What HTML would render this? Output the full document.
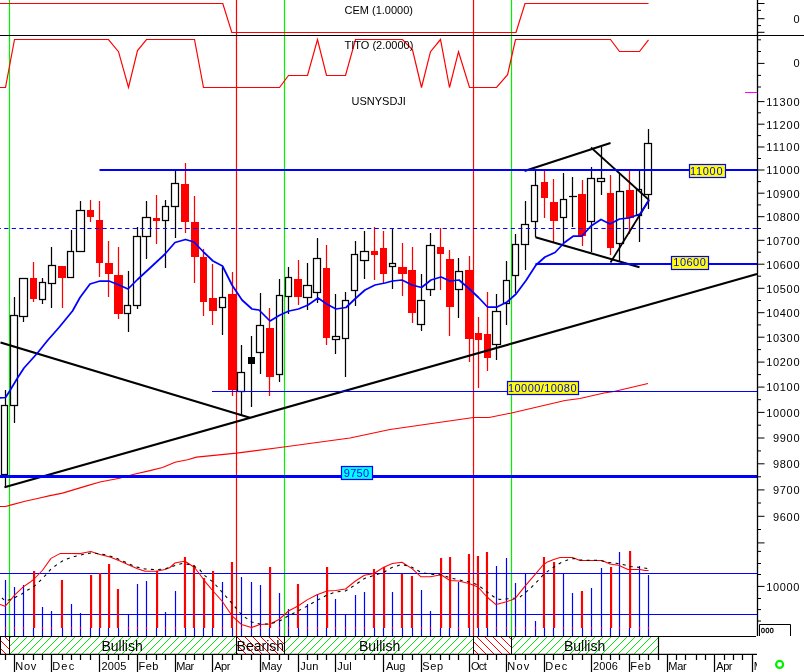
<!DOCTYPE html>
<html><head><meta charset="utf-8"><title>USNYSDJI chart</title>
<style>html,body{margin:0;padding:0;background:#fff}svg{display:block}</style></head>
<body>
<svg width="804" height="672" viewBox="0 0 804 672" font-family="Liberation Sans, Arial, sans-serif" font-size="11">
<defs>
<pattern id="hg" width="8" height="8" patternUnits="userSpaceOnUse"><path d="M-1,9 L9,-1 M-1,1 L1,-1 M7,9 L9,7" stroke="#00f000" stroke-width="1" fill="none"/></pattern>
<pattern id="hr" width="8" height="8" patternUnits="userSpaceOnUse"><path d="M-1,-1 L9,9 M7,-1 L9,1 M-1,7 L1,9" stroke="#ff0000" stroke-width="1" fill="none"/></pattern>
</defs>
<rect width="804" height="672" fill="#fff"/>
<line x1="9.5" y1="0" x2="9.5" y2="636" stroke="#00f000" stroke-width="1.2"/>
<line x1="284.5" y1="0" x2="284.5" y2="636" stroke="#00f000" stroke-width="1.2"/>
<line x1="511.5" y1="0" x2="511.5" y2="636" stroke="#00f000" stroke-width="1.2"/>
<line x1="236.5" y1="0" x2="236.5" y2="636" stroke="#ff0000" stroke-width="1.2"/>
<line x1="473.5" y1="0" x2="473.5" y2="636" stroke="#ff0000" stroke-width="1.2"/>
<polyline points="0.0,3.5 222.8,3.5 231.8,32.5 516.0,32.5 525.0,3.5 648.5,3.5" fill="none" stroke="#ff0000" stroke-width="1.2"/>
<polyline points="0.0,87.5 5.5,87.5 14.5,39.5 108.5,39.5 118.5,51.7 128.5,87.5 137.5,50.5 146.5,39.5 194.5,39.5 203.5,87.5 279.5,87.5 288.5,75.5 307.5,75.5 317.5,39.5 326.5,75.5 345.5,75.5 355.5,39.5 402.5,39.5 412.5,49.8 421.5,87.5 430.5,51.7 440.5,39.5 449.5,87.5 458.5,51.7 469.5,87.5 496.5,87.5 507.6,74.6 515.5,39.5 610.5,39.5 619.5,51.5 639.5,51.5 648.5,39.8" fill="none" stroke="#ff0000" stroke-width="1.2"/>
<line x1="0" y1="35.5" x2="804" y2="35.5" stroke="#000" stroke-width="1.15"/>
<text x="344.5" y="14" fill="#000">CEM (1.0000)</text>
<text x="344.5" y="49" fill="#000">TITO (2.0000)</text>
<text x="351.5" y="105" fill="#000">USNYSDJI</text>
<polyline points="0.0,506.5 5.5,506.5 9.5,505.4 25.0,501.3 37.5,498.5 50.0,495.6 62.5,493.1 75.0,489.4 87.5,485.6 100.0,482.0 119.4,478.2 134.0,474.2 150.0,470.6 162.5,467.5 175.0,462.3 187.5,459.8 196.5,457.1 236.5,453.1 280.0,447.5 350.0,438.0 390.0,429.5 473.5,417.5 489.0,417.5 511.5,413.0 565.0,400.5 580.0,398.5 604.0,393.0 614.0,391.5 648.0,383.5" fill="none" stroke="#ff0000" stroke-width="1.1" stroke-linejoin="round"/>
<line x1="5.5" y1="390" x2="5.5" y2="405" stroke="#000" stroke-width="1.25"/>
<line x1="5.5" y1="475" x2="5.5" y2="488" stroke="#000" stroke-width="1.25"/>
<rect x="1.5" y="405.5" width="6" height="69" fill="none" stroke="#000" stroke-width="1.25"/>
<line x1="14.5" y1="297" x2="14.5" y2="315" stroke="#000" stroke-width="1.25"/>
<line x1="14.5" y1="406" x2="14.5" y2="423" stroke="#000" stroke-width="1.25"/>
<rect x="10.5" y="315.5" width="7" height="90" fill="none" stroke="#000" stroke-width="1.25"/>
<line x1="23.5" y1="317" x2="23.5" y2="322" stroke="#000" stroke-width="1.25"/>
<rect x="19.5" y="278.5" width="8" height="38" fill="none" stroke="#000" stroke-width="1.25"/>
<line x1="33.5" y1="262" x2="33.5" y2="278" stroke="#ff0000" stroke-width="1.25"/>
<line x1="33.5" y1="299" x2="33.5" y2="302" stroke="#ff0000" stroke-width="1.25"/>
<rect x="30" y="278" width="7" height="21" fill="#ff0000"/>
<line x1="42.5" y1="278" x2="42.5" y2="282" stroke="#000" stroke-width="1.25"/>
<line x1="42.5" y1="300" x2="42.5" y2="304" stroke="#000" stroke-width="1.25"/>
<rect x="39.5" y="282.5" width="6" height="17" fill="none" stroke="#000" stroke-width="1.25"/>
<line x1="51.5" y1="247" x2="51.5" y2="265" stroke="#000" stroke-width="1.25"/>
<line x1="51.5" y1="284" x2="51.5" y2="308" stroke="#000" stroke-width="1.25"/>
<rect x="48.5" y="265.5" width="7" height="18" fill="none" stroke="#000" stroke-width="1.25"/>
<line x1="62.5" y1="278" x2="62.5" y2="308" stroke="#ff0000" stroke-width="1.25"/>
<rect x="58" y="266" width="8" height="12" fill="#ff0000"/>
<line x1="71.5" y1="230" x2="71.5" y2="251" stroke="#000" stroke-width="1.25"/>
<rect x="67.5" y="251.5" width="6" height="26" fill="none" stroke="#000" stroke-width="1.25"/>
<line x1="80.5" y1="201" x2="80.5" y2="210" stroke="#000" stroke-width="1.25"/>
<rect x="76.5" y="210.5" width="8" height="41" fill="none" stroke="#000" stroke-width="1.25"/>
<line x1="90.5" y1="200" x2="90.5" y2="210" stroke="#ff0000" stroke-width="1.25"/>
<line x1="90.5" y1="217" x2="90.5" y2="222" stroke="#ff0000" stroke-width="1.25"/>
<rect x="87" y="210" width="7" height="7" fill="#ff0000"/>
<line x1="99.5" y1="201" x2="99.5" y2="220" stroke="#ff0000" stroke-width="1.25"/>
<line x1="99.5" y1="263" x2="99.5" y2="277" stroke="#ff0000" stroke-width="1.25"/>
<rect x="96" y="220" width="7" height="43" fill="#ff0000"/>
<line x1="108.5" y1="241" x2="108.5" y2="263" stroke="#ff0000" stroke-width="1.25"/>
<line x1="108.5" y1="274" x2="108.5" y2="297" stroke="#ff0000" stroke-width="1.25"/>
<rect x="105" y="263" width="8" height="11" fill="#ff0000"/>
<line x1="118.5" y1="247" x2="118.5" y2="275" stroke="#ff0000" stroke-width="1.25"/>
<line x1="118.5" y1="314" x2="118.5" y2="319" stroke="#ff0000" stroke-width="1.25"/>
<rect x="114" y="275" width="9" height="39" fill="#ff0000"/>
<line x1="128.5" y1="271" x2="128.5" y2="305" stroke="#000" stroke-width="1.25"/>
<line x1="128.5" y1="314" x2="128.5" y2="332" stroke="#000" stroke-width="1.25"/>
<rect x="124.5" y="305.5" width="6" height="8" fill="none" stroke="#000" stroke-width="1.25"/>
<line x1="137.5" y1="227" x2="137.5" y2="236" stroke="#000" stroke-width="1.25"/>
<line x1="137.5" y1="306" x2="137.5" y2="309" stroke="#000" stroke-width="1.25"/>
<rect x="133.5" y="236.5" width="7" height="69" fill="none" stroke="#000" stroke-width="1.25"/>
<line x1="146.5" y1="201" x2="146.5" y2="217" stroke="#000" stroke-width="1.25"/>
<line x1="146.5" y1="237" x2="146.5" y2="259" stroke="#000" stroke-width="1.25"/>
<rect x="142.5" y="217.5" width="8" height="19" fill="none" stroke="#000" stroke-width="1.25"/>
<line x1="156.5" y1="195" x2="156.5" y2="218" stroke="#ff0000" stroke-width="1.25"/>
<line x1="156.5" y1="221" x2="156.5" y2="244" stroke="#ff0000" stroke-width="1.25"/>
<rect x="153" y="218" width="7" height="3" fill="#ff0000"/>
<line x1="165.5" y1="200" x2="165.5" y2="206" stroke="#000" stroke-width="1.25"/>
<line x1="165.5" y1="221" x2="165.5" y2="268" stroke="#000" stroke-width="1.25"/>
<rect x="162.5" y="206.5" width="6" height="14" fill="none" stroke="#000" stroke-width="1.25"/>
<line x1="175.5" y1="170" x2="175.5" y2="183" stroke="#000" stroke-width="1.25"/>
<line x1="175.5" y1="207" x2="175.5" y2="238" stroke="#000" stroke-width="1.25"/>
<rect x="171.5" y="183.5" width="7" height="23" fill="none" stroke="#000" stroke-width="1.25"/>
<line x1="185.5" y1="163" x2="185.5" y2="184" stroke="#ff0000" stroke-width="1.25"/>
<line x1="185.5" y1="222" x2="185.5" y2="233" stroke="#ff0000" stroke-width="1.25"/>
<rect x="181" y="184" width="8" height="38" fill="#ff0000"/>
<line x1="194.5" y1="196" x2="194.5" y2="222" stroke="#ff0000" stroke-width="1.25"/>
<line x1="194.5" y1="257" x2="194.5" y2="283" stroke="#ff0000" stroke-width="1.25"/>
<rect x="191" y="222" width="8" height="35" fill="#ff0000"/>
<line x1="203.5" y1="249" x2="203.5" y2="257" stroke="#ff0000" stroke-width="1.25"/>
<line x1="203.5" y1="302" x2="203.5" y2="316" stroke="#ff0000" stroke-width="1.25"/>
<rect x="200" y="257" width="7" height="45" fill="#ff0000"/>
<line x1="212.5" y1="264" x2="212.5" y2="298" stroke="#ff0000" stroke-width="1.25"/>
<line x1="212.5" y1="311" x2="212.5" y2="325" stroke="#ff0000" stroke-width="1.25"/>
<rect x="209" y="298" width="8" height="13" fill="#ff0000"/>
<line x1="222.5" y1="266" x2="222.5" y2="297" stroke="#000" stroke-width="1.25"/>
<line x1="222.5" y1="308" x2="222.5" y2="335" stroke="#000" stroke-width="1.25"/>
<rect x="219.5" y="297.5" width="6" height="10" fill="none" stroke="#000" stroke-width="1.25"/>
<line x1="232.5" y1="272" x2="232.5" y2="294" stroke="#ff0000" stroke-width="1.25"/>
<line x1="232.5" y1="390" x2="232.5" y2="396" stroke="#ff0000" stroke-width="1.25"/>
<rect x="228" y="294" width="9" height="96" fill="#ff0000"/>
<line x1="241.5" y1="345" x2="241.5" y2="372" stroke="#000" stroke-width="1.25"/>
<line x1="241.5" y1="392" x2="241.5" y2="416" stroke="#000" stroke-width="1.25"/>
<rect x="237.5" y="372.5" width="7" height="19" fill="none" stroke="#000" stroke-width="1.25"/>
<line x1="251.5" y1="336" x2="251.5" y2="357" stroke="#000" stroke-width="1.25"/>
<line x1="251.5" y1="364" x2="251.5" y2="407" stroke="#000" stroke-width="1.25"/>
<rect x="248" y="357" width="7" height="7" fill="#000"/>
<line x1="260.5" y1="293" x2="260.5" y2="325" stroke="#000" stroke-width="1.25"/>
<line x1="260.5" y1="353" x2="260.5" y2="374" stroke="#000" stroke-width="1.25"/>
<rect x="256.5" y="325.5" width="7" height="27" fill="none" stroke="#000" stroke-width="1.25"/>
<line x1="269.5" y1="308" x2="269.5" y2="328" stroke="#ff0000" stroke-width="1.25"/>
<line x1="269.5" y1="377" x2="269.5" y2="396" stroke="#ff0000" stroke-width="1.25"/>
<rect x="266" y="328" width="8" height="49" fill="#ff0000"/>
<line x1="279.5" y1="279" x2="279.5" y2="295" stroke="#000" stroke-width="1.25"/>
<line x1="279.5" y1="375" x2="279.5" y2="382" stroke="#000" stroke-width="1.25"/>
<rect x="276.5" y="295.5" width="6" height="79" fill="none" stroke="#000" stroke-width="1.25"/>
<line x1="288.5" y1="267" x2="288.5" y2="277" stroke="#000" stroke-width="1.25"/>
<line x1="288.5" y1="297" x2="288.5" y2="314" stroke="#000" stroke-width="1.25"/>
<rect x="285.5" y="277.5" width="6" height="19" fill="none" stroke="#000" stroke-width="1.25"/>
<line x1="298.5" y1="260" x2="298.5" y2="279" stroke="#ff0000" stroke-width="1.25"/>
<line x1="298.5" y1="297" x2="298.5" y2="305" stroke="#ff0000" stroke-width="1.25"/>
<rect x="294" y="279" width="8" height="18" fill="#ff0000"/>
<line x1="307.5" y1="263" x2="307.5" y2="285" stroke="#000" stroke-width="1.25"/>
<line x1="307.5" y1="298" x2="307.5" y2="310" stroke="#000" stroke-width="1.25"/>
<rect x="303.5" y="285.5" width="8" height="12" fill="none" stroke="#000" stroke-width="1.25"/>
<line x1="317.5" y1="238" x2="317.5" y2="258" stroke="#000" stroke-width="1.25"/>
<line x1="317.5" y1="293" x2="317.5" y2="303" stroke="#000" stroke-width="1.25"/>
<rect x="313.5" y="258.5" width="7" height="34" fill="none" stroke="#000" stroke-width="1.25"/>
<line x1="326.5" y1="245" x2="326.5" y2="268" stroke="#ff0000" stroke-width="1.25"/>
<line x1="326.5" y1="338" x2="326.5" y2="345" stroke="#ff0000" stroke-width="1.25"/>
<rect x="323" y="268" width="7" height="70" fill="#ff0000"/>
<line x1="335.5" y1="294" x2="335.5" y2="336" stroke="#000" stroke-width="1.25"/>
<line x1="335.5" y1="340" x2="335.5" y2="354" stroke="#000" stroke-width="1.25"/>
<rect x="332.5" y="336.5" width="7" height="3" fill="none" stroke="#000" stroke-width="1.25"/>
<line x1="345.5" y1="292" x2="345.5" y2="300" stroke="#000" stroke-width="1.25"/>
<line x1="345.5" y1="339" x2="345.5" y2="377" stroke="#000" stroke-width="1.25"/>
<rect x="342.5" y="300.5" width="6" height="38" fill="none" stroke="#000" stroke-width="1.25"/>
<line x1="355.5" y1="241" x2="355.5" y2="254" stroke="#000" stroke-width="1.25"/>
<line x1="355.5" y1="291" x2="355.5" y2="306" stroke="#000" stroke-width="1.25"/>
<rect x="351.5" y="254.5" width="6" height="36" fill="none" stroke="#000" stroke-width="1.25"/>
<line x1="364.5" y1="231" x2="364.5" y2="251" stroke="#000" stroke-width="1.25"/>
<line x1="364.5" y1="261" x2="364.5" y2="279" stroke="#000" stroke-width="1.25"/>
<rect x="360.5" y="251.5" width="8" height="9" fill="none" stroke="#000" stroke-width="1.25"/>
<line x1="374.5" y1="227" x2="374.5" y2="251" stroke="#ff0000" stroke-width="1.25"/>
<line x1="374.5" y1="255" x2="374.5" y2="280" stroke="#ff0000" stroke-width="1.25"/>
<rect x="371" y="251" width="7" height="4" fill="#ff0000"/>
<line x1="383.5" y1="231" x2="383.5" y2="248" stroke="#ff0000" stroke-width="1.25"/>
<line x1="383.5" y1="274" x2="383.5" y2="284" stroke="#ff0000" stroke-width="1.25"/>
<rect x="380" y="248" width="7" height="26" fill="#ff0000"/>
<line x1="392.5" y1="228" x2="392.5" y2="263" stroke="#000" stroke-width="1.25"/>
<line x1="392.5" y1="267" x2="392.5" y2="289" stroke="#000" stroke-width="1.25"/>
<rect x="389.5" y="263.5" width="6" height="3" fill="none" stroke="#000" stroke-width="1.25"/>
<line x1="402.5" y1="243" x2="402.5" y2="267" stroke="#ff0000" stroke-width="1.25"/>
<line x1="402.5" y1="274" x2="402.5" y2="296" stroke="#ff0000" stroke-width="1.25"/>
<rect x="398" y="267" width="9" height="7" fill="#ff0000"/>
<line x1="412.5" y1="247" x2="412.5" y2="270" stroke="#ff0000" stroke-width="1.25"/>
<line x1="412.5" y1="313" x2="412.5" y2="323" stroke="#ff0000" stroke-width="1.25"/>
<rect x="408" y="270" width="8" height="43" fill="#ff0000"/>
<line x1="421.5" y1="274" x2="421.5" y2="300" stroke="#000" stroke-width="1.25"/>
<line x1="421.5" y1="325" x2="421.5" y2="331" stroke="#000" stroke-width="1.25"/>
<rect x="417.5" y="300.5" width="7" height="24" fill="none" stroke="#000" stroke-width="1.25"/>
<line x1="430.5" y1="233" x2="430.5" y2="245" stroke="#000" stroke-width="1.25"/>
<line x1="430.5" y1="290" x2="430.5" y2="296" stroke="#000" stroke-width="1.25"/>
<rect x="426.5" y="245.5" width="8" height="44" fill="none" stroke="#000" stroke-width="1.25"/>
<line x1="440.5" y1="228" x2="440.5" y2="247" stroke="#ff0000" stroke-width="1.25"/>
<line x1="440.5" y1="254" x2="440.5" y2="290" stroke="#ff0000" stroke-width="1.25"/>
<rect x="437" y="247" width="7" height="7" fill="#ff0000"/>
<line x1="449.5" y1="250" x2="449.5" y2="259" stroke="#ff0000" stroke-width="1.25"/>
<line x1="449.5" y1="307" x2="449.5" y2="336" stroke="#ff0000" stroke-width="1.25"/>
<rect x="446" y="259" width="8" height="48" fill="#ff0000"/>
<line x1="458.5" y1="258" x2="458.5" y2="271" stroke="#000" stroke-width="1.25"/>
<line x1="458.5" y1="290" x2="458.5" y2="318" stroke="#000" stroke-width="1.25"/>
<rect x="455.5" y="271.5" width="7" height="18" fill="none" stroke="#000" stroke-width="1.25"/>
<line x1="469.5" y1="256" x2="469.5" y2="270" stroke="#ff0000" stroke-width="1.25"/>
<line x1="469.5" y1="339" x2="469.5" y2="362" stroke="#ff0000" stroke-width="1.25"/>
<rect x="465" y="270" width="9" height="69" fill="#ff0000"/>
<line x1="478.5" y1="317" x2="478.5" y2="333" stroke="#ff0000" stroke-width="1.25"/>
<line x1="478.5" y1="340" x2="478.5" y2="388" stroke="#ff0000" stroke-width="1.25"/>
<rect x="475" y="333" width="7" height="7" fill="#ff0000"/>
<line x1="487.5" y1="292" x2="487.5" y2="334" stroke="#ff0000" stroke-width="1.25"/>
<line x1="487.5" y1="358" x2="487.5" y2="371" stroke="#ff0000" stroke-width="1.25"/>
<rect x="484" y="334" width="7" height="24" fill="#ff0000"/>
<line x1="496.5" y1="294" x2="496.5" y2="311" stroke="#000" stroke-width="1.25"/>
<line x1="496.5" y1="345" x2="496.5" y2="360" stroke="#000" stroke-width="1.25"/>
<rect x="492.5" y="311.5" width="8" height="33" fill="none" stroke="#000" stroke-width="1.25"/>
<line x1="506.5" y1="261" x2="506.5" y2="280" stroke="#000" stroke-width="1.25"/>
<line x1="506.5" y1="304" x2="506.5" y2="325" stroke="#000" stroke-width="1.25"/>
<rect x="503.5" y="280.5" width="6" height="23" fill="none" stroke="#000" stroke-width="1.25"/>
<line x1="515.5" y1="234" x2="515.5" y2="244" stroke="#000" stroke-width="1.25"/>
<line x1="515.5" y1="276" x2="515.5" y2="293" stroke="#000" stroke-width="1.25"/>
<rect x="512.5" y="244.5" width="6" height="31" fill="none" stroke="#000" stroke-width="1.25"/>
<line x1="525.5" y1="201" x2="525.5" y2="224" stroke="#000" stroke-width="1.25"/>
<line x1="525.5" y1="245" x2="525.5" y2="270" stroke="#000" stroke-width="1.25"/>
<rect x="521.5" y="224.5" width="7" height="20" fill="none" stroke="#000" stroke-width="1.25"/>
<line x1="535.5" y1="171" x2="535.5" y2="185" stroke="#000" stroke-width="1.25"/>
<line x1="535.5" y1="222" x2="535.5" y2="237" stroke="#000" stroke-width="1.25"/>
<rect x="531.5" y="185.5" width="6" height="36" fill="none" stroke="#000" stroke-width="1.25"/>
<line x1="544.5" y1="171" x2="544.5" y2="182" stroke="#ff0000" stroke-width="1.25"/>
<line x1="544.5" y1="198" x2="544.5" y2="218" stroke="#ff0000" stroke-width="1.25"/>
<rect x="541" y="182" width="7" height="16" fill="#ff0000"/>
<line x1="553.5" y1="179" x2="553.5" y2="202" stroke="#ff0000" stroke-width="1.25"/>
<line x1="553.5" y1="221" x2="553.5" y2="242" stroke="#ff0000" stroke-width="1.25"/>
<rect x="550" y="202" width="8" height="19" fill="#ff0000"/>
<line x1="563.5" y1="173" x2="563.5" y2="199" stroke="#000" stroke-width="1.25"/>
<line x1="563.5" y1="218" x2="563.5" y2="243" stroke="#000" stroke-width="1.25"/>
<rect x="560.5" y="199.5" width="6" height="18" fill="none" stroke="#000" stroke-width="1.25"/>
<line x1="572.5" y1="177" x2="572.5" y2="227" stroke="#000" stroke-width="1.25"/>
<line x1="569" y1="196.5" x2="577" y2="196.5" stroke="#000" stroke-width="1.25"/>
<line x1="582.5" y1="180" x2="582.5" y2="194" stroke="#ff0000" stroke-width="1.25"/>
<line x1="582.5" y1="236" x2="582.5" y2="246" stroke="#ff0000" stroke-width="1.25"/>
<rect x="578" y="194" width="8" height="42" fill="#ff0000"/>
<line x1="591.5" y1="167" x2="591.5" y2="178" stroke="#000" stroke-width="1.25"/>
<line x1="591.5" y1="222" x2="591.5" y2="252" stroke="#000" stroke-width="1.25"/>
<rect x="587.5" y="178.5" width="7" height="43" fill="none" stroke="#000" stroke-width="1.25"/>
<line x1="601.5" y1="147" x2="601.5" y2="178" stroke="#000" stroke-width="1.25"/>
<line x1="601.5" y1="182" x2="601.5" y2="195" stroke="#000" stroke-width="1.25"/>
<rect x="597.5" y="178.5" width="7" height="3" fill="none" stroke="#000" stroke-width="1.25"/>
<line x1="610.5" y1="175" x2="610.5" y2="193" stroke="#ff0000" stroke-width="1.25"/>
<line x1="610.5" y1="248" x2="610.5" y2="255" stroke="#ff0000" stroke-width="1.25"/>
<rect x="607" y="193" width="7" height="55" fill="#ff0000"/>
<line x1="619.5" y1="174" x2="619.5" y2="191" stroke="#000" stroke-width="1.25"/>
<line x1="619.5" y1="244" x2="619.5" y2="261" stroke="#000" stroke-width="1.25"/>
<rect x="616.5" y="191.5" width="7" height="52" fill="none" stroke="#000" stroke-width="1.25"/>
<line x1="629.5" y1="171" x2="629.5" y2="190" stroke="#ff0000" stroke-width="1.25"/>
<line x1="629.5" y1="218" x2="629.5" y2="234" stroke="#ff0000" stroke-width="1.25"/>
<rect x="626" y="190" width="8" height="28" fill="#ff0000"/>
<line x1="639.5" y1="171" x2="639.5" y2="189" stroke="#000" stroke-width="1.25"/>
<line x1="639.5" y1="216" x2="639.5" y2="242" stroke="#000" stroke-width="1.25"/>
<rect x="636.5" y="189.5" width="5" height="26" fill="none" stroke="#000" stroke-width="1.25"/>
<line x1="648.5" y1="129" x2="648.5" y2="143" stroke="#000" stroke-width="1.25"/>
<line x1="648.5" y1="195" x2="648.5" y2="209" stroke="#000" stroke-width="1.25"/>
<rect x="644.5" y="143.5" width="7" height="51" fill="none" stroke="#000" stroke-width="1.25"/>
<line x1="1.5" y1="342.7" x2="249" y2="417.5" stroke="#000" stroke-width="2.1" stroke-linecap="square"/>
<line x1="4.5" y1="487.3" x2="757" y2="274" stroke="#000" stroke-width="2.15"/>
<line x1="524.5" y1="171" x2="610.5" y2="143" stroke="#000" stroke-width="2.05"/>
<line x1="591" y1="147.5" x2="649" y2="200" stroke="#000" stroke-width="1.7"/>
<line x1="535.5" y1="237.2" x2="639.5" y2="267.3" stroke="#000" stroke-width="2.05"/>
<line x1="610.5" y1="262.5" x2="649" y2="200" stroke="#000" stroke-width="1.8"/>
<line x1="0" y1="228.5" x2="757" y2="228.5" stroke="#0000ff" stroke-width="1.1" stroke-dasharray="4.2,3.36" stroke-dashoffset="-4.2"/>
<line x1="0" y1="476.5" x2="757" y2="476.5" stroke="#0000ff" stroke-width="3"/>
<line x1="99.5" y1="170" x2="757" y2="170" stroke="#0000ff" stroke-width="2"/>
<line x1="535.5" y1="264" x2="757" y2="264" stroke="#0000ff" stroke-width="2"/>
<line x1="212" y1="391.5" x2="757" y2="391.5" stroke="#0000ff" stroke-width="1"/>
<polyline points="0.0,398.0 5.5,397.5 10.0,390.5 17.5,378.0 24.0,368.0 37.5,353.0 47.5,340.5 59.0,327.5 72.5,311.0 80.0,297.5 90.0,284.0 100.0,281.0 109.0,281.0 119.0,285.0 128.0,289.0 137.5,279.5 150.0,268.0 165.0,254.0 175.0,242.5 185.5,239.5 194.0,242.0 204.0,252.5 213.0,261.0 222.5,266.0 232.0,285.0 242.0,300.0 252.0,309.0 259.0,310.0 270.0,321.0 280.0,315.0 289.0,311.0 298.5,309.0 308.0,305.0 318.0,298.0 327.5,304.5 336.0,309.0 346.0,307.5 356.0,298.0 365.0,290.0 375.0,285.0 385.0,283.0 392.5,281.0 402.0,280.0 412.0,285.0 421.5,287.5 431.0,280.0 441.0,277.0 450.0,281.0 459.0,280.0 469.5,289.0 478.5,297.5 487.5,307.0 497.0,307.0 507.0,302.0 516.0,294.0 526.0,280.5 536.0,265.0 545.0,257.0 555.0,252.5 564.5,242.5 573.5,236.0 582.0,236.0 591.0,226.0 601.0,219.5 610.0,224.0 619.5,219.0 629.0,218.0 640.0,214.0 649.0,200.0" fill="none" stroke="#0000ff" stroke-width="1.75" stroke-linejoin="round"/>
<rect x="689.5" y="164.5" width="36" height="13" fill="#ffff00" stroke="#0000ff" stroke-width="1.2"/>
<text x="690" y="175" textLength="32.5" lengthAdjust="spacing" fill="#0000ff">11000</text>
<rect x="671.5" y="256.5" width="37" height="13" fill="#ffff00" stroke="#0000ff" stroke-width="1.2"/>
<text x="673.3" y="266.2" textLength="32.5" lengthAdjust="spacing" fill="#0000ff">10600</text>
<rect x="507.5" y="381.5" width="71" height="13" fill="#ffff00" stroke="#0000ff" stroke-width="1.2"/>
<text x="508" y="391.8" textLength="68.5" lengthAdjust="spacing" fill="#0000ff">10000/10080</text>
<rect x="341.5" y="466.5" width="31" height="13" fill="#00ffff" stroke="#0000ff" stroke-width="1.2"/>
<text x="343.8" y="476.8" textLength="25.2" lengthAdjust="spacing" fill="#0000ff">9750</text>
<line x1="0" y1="573.5" x2="757" y2="573.5" stroke="#0000ff" stroke-width="1"/>
<line x1="0" y1="614.5" x2="757" y2="614.5" stroke="#0000ff" stroke-width="1"/>
<line x1="5.5" y1="636" x2="5.5" y2="580" stroke="#0000ff" stroke-width="1.2"/>
<rect x="4.9" y="627.2" width="1.2" height="1.8" fill="#ff0000"/>
<line x1="14.5" y1="636" x2="14.5" y2="587" stroke="#0000ff" stroke-width="1.2"/>
<rect x="13.9" y="627.2" width="1.2" height="1.8" fill="#ff0000"/>
<line x1="23.5" y1="636" x2="23.5" y2="585" stroke="#0000ff" stroke-width="1.2"/>
<rect x="22.9" y="627.2" width="1.2" height="1.8" fill="#ff0000"/>
<line x1="33.5" y1="636" x2="33.5" y2="628" stroke="#0000ff" stroke-width="1.2"/>
<rect x="33.0" y="571" width="2.15" height="57" fill="#ff0000"/>
<line x1="42.5" y1="636" x2="42.5" y2="607" stroke="#0000ff" stroke-width="1.2"/>
<rect x="41.9" y="627.2" width="1.2" height="1.8" fill="#ff0000"/>
<line x1="51.5" y1="636" x2="51.5" y2="611" stroke="#0000ff" stroke-width="1.2"/>
<rect x="50.9" y="627.2" width="1.2" height="1.8" fill="#ff0000"/>
<line x1="62.5" y1="636" x2="62.5" y2="628" stroke="#0000ff" stroke-width="1.2"/>
<rect x="60.9" y="580" width="2.15" height="48" fill="#ff0000"/>
<line x1="71.5" y1="636" x2="71.5" y2="604" stroke="#0000ff" stroke-width="1.2"/>
<rect x="70.9" y="627.2" width="1.2" height="1.8" fill="#ff0000"/>
<line x1="80.5" y1="636" x2="80.5" y2="613" stroke="#0000ff" stroke-width="1.2"/>
<rect x="79.9" y="627.2" width="1.2" height="1.8" fill="#ff0000"/>
<line x1="90.5" y1="636" x2="90.5" y2="628" stroke="#0000ff" stroke-width="1.2"/>
<rect x="90.0" y="575" width="2.15" height="53" fill="#ff0000"/>
<line x1="99.5" y1="636" x2="99.5" y2="628" stroke="#0000ff" stroke-width="1.2"/>
<rect x="99.0" y="573" width="2.15" height="55" fill="#ff0000"/>
<line x1="108.5" y1="636" x2="108.5" y2="628" stroke="#0000ff" stroke-width="1.2"/>
<rect x="108.0" y="564" width="2.15" height="64" fill="#ff0000"/>
<line x1="118.5" y1="636" x2="118.5" y2="628" stroke="#0000ff" stroke-width="1.2"/>
<rect x="116.9" y="589" width="2.15" height="39" fill="#ff0000"/>
<line x1="128.5" y1="636" x2="128.5" y2="614" stroke="#0000ff" stroke-width="1.2"/>
<rect x="127.9" y="627.2" width="1.2" height="1.8" fill="#ff0000"/>
<line x1="137.5" y1="636" x2="137.5" y2="584" stroke="#0000ff" stroke-width="1.2"/>
<rect x="136.9" y="627.2" width="1.2" height="1.8" fill="#ff0000"/>
<line x1="146.5" y1="636" x2="146.5" y2="581" stroke="#0000ff" stroke-width="1.2"/>
<rect x="145.9" y="627.2" width="1.2" height="1.8" fill="#ff0000"/>
<line x1="156.5" y1="636" x2="156.5" y2="628" stroke="#0000ff" stroke-width="1.2"/>
<rect x="156.0" y="571" width="2.15" height="57" fill="#ff0000"/>
<line x1="165.5" y1="636" x2="165.5" y2="612" stroke="#0000ff" stroke-width="1.2"/>
<rect x="164.9" y="627.2" width="1.2" height="1.8" fill="#ff0000"/>
<line x1="175.5" y1="636" x2="175.5" y2="591" stroke="#0000ff" stroke-width="1.2"/>
<rect x="174.9" y="627.2" width="1.2" height="1.8" fill="#ff0000"/>
<line x1="185.5" y1="636" x2="185.5" y2="628" stroke="#0000ff" stroke-width="1.2"/>
<rect x="183.9" y="557" width="2.15" height="71" fill="#ff0000"/>
<line x1="194.5" y1="636" x2="194.5" y2="628" stroke="#0000ff" stroke-width="1.2"/>
<rect x="192.9" y="565" width="2.15" height="63" fill="#ff0000"/>
<line x1="203.5" y1="636" x2="203.5" y2="628" stroke="#0000ff" stroke-width="1.2"/>
<rect x="203.0" y="578" width="2.15" height="50" fill="#ff0000"/>
<line x1="212.5" y1="636" x2="212.5" y2="628" stroke="#0000ff" stroke-width="1.2"/>
<rect x="212.0" y="571" width="2.15" height="57" fill="#ff0000"/>
<line x1="222.5" y1="636" x2="222.5" y2="582" stroke="#0000ff" stroke-width="1.2"/>
<rect x="221.9" y="627.2" width="1.2" height="1.8" fill="#ff0000"/>
<line x1="232.5" y1="636" x2="232.5" y2="628" stroke="#0000ff" stroke-width="1.2"/>
<rect x="230.9" y="562" width="2.15" height="66" fill="#ff0000"/>
<line x1="241.5" y1="636" x2="241.5" y2="577" stroke="#0000ff" stroke-width="1.2"/>
<rect x="240.9" y="627.2" width="1.2" height="1.8" fill="#ff0000"/>
<line x1="251.5" y1="636" x2="251.5" y2="582" stroke="#0000ff" stroke-width="1.2"/>
<rect x="250.9" y="627.2" width="1.2" height="1.8" fill="#ff0000"/>
<line x1="260.5" y1="636" x2="260.5" y2="585" stroke="#0000ff" stroke-width="1.2"/>
<rect x="259.9" y="627.2" width="1.2" height="1.8" fill="#ff0000"/>
<line x1="269.5" y1="636" x2="269.5" y2="628" stroke="#0000ff" stroke-width="1.2"/>
<rect x="269.0" y="567" width="2.15" height="61" fill="#ff0000"/>
<line x1="279.5" y1="636" x2="279.5" y2="593" stroke="#0000ff" stroke-width="1.2"/>
<rect x="278.9" y="627.2" width="1.2" height="1.8" fill="#ff0000"/>
<line x1="288.5" y1="636" x2="288.5" y2="609" stroke="#0000ff" stroke-width="1.2"/>
<rect x="287.9" y="627.2" width="1.2" height="1.8" fill="#ff0000"/>
<line x1="298.5" y1="636" x2="298.5" y2="628" stroke="#0000ff" stroke-width="1.2"/>
<rect x="296.9" y="584" width="2.15" height="44" fill="#ff0000"/>
<line x1="307.5" y1="636" x2="307.5" y2="604" stroke="#0000ff" stroke-width="1.2"/>
<rect x="306.9" y="627.2" width="1.2" height="1.8" fill="#ff0000"/>
<line x1="317.5" y1="636" x2="317.5" y2="594" stroke="#0000ff" stroke-width="1.2"/>
<rect x="316.9" y="627.2" width="1.2" height="1.8" fill="#ff0000"/>
<line x1="326.5" y1="636" x2="326.5" y2="628" stroke="#0000ff" stroke-width="1.2"/>
<rect x="326.0" y="567" width="2.15" height="61" fill="#ff0000"/>
<line x1="335.5" y1="636" x2="335.5" y2="599" stroke="#0000ff" stroke-width="1.2"/>
<rect x="334.9" y="627.2" width="1.2" height="1.8" fill="#ff0000"/>
<line x1="345.5" y1="636" x2="345.5" y2="614" stroke="#0000ff" stroke-width="1.2"/>
<rect x="344.9" y="627.2" width="1.2" height="1.8" fill="#ff0000"/>
<line x1="355.5" y1="636" x2="355.5" y2="595" stroke="#0000ff" stroke-width="1.2"/>
<rect x="354.9" y="627.2" width="1.2" height="1.8" fill="#ff0000"/>
<line x1="364.5" y1="636" x2="364.5" y2="592" stroke="#0000ff" stroke-width="1.2"/>
<rect x="363.9" y="627.2" width="1.2" height="1.8" fill="#ff0000"/>
<line x1="374.5" y1="636" x2="374.5" y2="628" stroke="#0000ff" stroke-width="1.2"/>
<rect x="372.9" y="569" width="2.15" height="59" fill="#ff0000"/>
<line x1="383.5" y1="636" x2="383.5" y2="628" stroke="#0000ff" stroke-width="1.2"/>
<rect x="383.0" y="567" width="2.15" height="61" fill="#ff0000"/>
<line x1="392.5" y1="636" x2="392.5" y2="592" stroke="#0000ff" stroke-width="1.2"/>
<rect x="391.9" y="627.2" width="1.2" height="1.8" fill="#ff0000"/>
<line x1="402.5" y1="636" x2="402.5" y2="628" stroke="#0000ff" stroke-width="1.2"/>
<rect x="400.9" y="574" width="2.15" height="54" fill="#ff0000"/>
<line x1="412.5" y1="636" x2="412.5" y2="628" stroke="#0000ff" stroke-width="1.2"/>
<rect x="410.9" y="576" width="2.15" height="52" fill="#ff0000"/>
<line x1="421.5" y1="636" x2="421.5" y2="590" stroke="#0000ff" stroke-width="1.2"/>
<rect x="420.9" y="627.2" width="1.2" height="1.8" fill="#ff0000"/>
<line x1="430.5" y1="636" x2="430.5" y2="611" stroke="#0000ff" stroke-width="1.2"/>
<rect x="429.9" y="627.2" width="1.2" height="1.8" fill="#ff0000"/>
<line x1="440.5" y1="636" x2="440.5" y2="628" stroke="#0000ff" stroke-width="1.2"/>
<rect x="440.0" y="558" width="2.15" height="70" fill="#ff0000"/>
<line x1="449.5" y1="636" x2="449.5" y2="628" stroke="#0000ff" stroke-width="1.2"/>
<rect x="449.0" y="557" width="2.15" height="71" fill="#ff0000"/>
<line x1="458.5" y1="636" x2="458.5" y2="582" stroke="#0000ff" stroke-width="1.2"/>
<rect x="457.9" y="627.2" width="1.2" height="1.8" fill="#ff0000"/>
<line x1="469.5" y1="636" x2="469.5" y2="628" stroke="#0000ff" stroke-width="1.2"/>
<rect x="467.9" y="554" width="2.15" height="74" fill="#ff0000"/>
<line x1="478.5" y1="636" x2="478.5" y2="628" stroke="#0000ff" stroke-width="1.2"/>
<rect x="476.9" y="556" width="2.15" height="72" fill="#ff0000"/>
<line x1="487.5" y1="636" x2="487.5" y2="628" stroke="#0000ff" stroke-width="1.2"/>
<rect x="485.9" y="552" width="2.15" height="76" fill="#ff0000"/>
<line x1="496.5" y1="636" x2="496.5" y2="566" stroke="#0000ff" stroke-width="1.2"/>
<rect x="495.9" y="627.2" width="1.2" height="1.8" fill="#ff0000"/>
<line x1="506.5" y1="636" x2="506.5" y2="558" stroke="#0000ff" stroke-width="1.2"/>
<rect x="505.9" y="627.2" width="1.2" height="1.8" fill="#ff0000"/>
<line x1="515.5" y1="636" x2="515.5" y2="583" stroke="#0000ff" stroke-width="1.2"/>
<rect x="514.9" y="627.2" width="1.2" height="1.8" fill="#ff0000"/>
<line x1="525.5" y1="636" x2="525.5" y2="574" stroke="#0000ff" stroke-width="1.2"/>
<rect x="524.9" y="627.2" width="1.2" height="1.8" fill="#ff0000"/>
<line x1="535.5" y1="636" x2="535.5" y2="621" stroke="#0000ff" stroke-width="1.2"/>
<rect x="534.9" y="627.2" width="1.2" height="1.8" fill="#ff0000"/>
<line x1="544.5" y1="636" x2="544.5" y2="628" stroke="#0000ff" stroke-width="1.2"/>
<rect x="542.9" y="557" width="2.15" height="71" fill="#ff0000"/>
<line x1="553.5" y1="636" x2="553.5" y2="628" stroke="#0000ff" stroke-width="1.2"/>
<rect x="553.0" y="562" width="2.15" height="66" fill="#ff0000"/>
<line x1="563.5" y1="636" x2="563.5" y2="574" stroke="#0000ff" stroke-width="1.2"/>
<rect x="562.9" y="627.2" width="1.2" height="1.8" fill="#ff0000"/>
<line x1="572.5" y1="636" x2="572.5" y2="593" stroke="#0000ff" stroke-width="1.2"/>
<rect x="571.9" y="627.2" width="1.2" height="1.8" fill="#ff0000"/>
<line x1="582.5" y1="636" x2="582.5" y2="628" stroke="#0000ff" stroke-width="1.2"/>
<rect x="580.9" y="591" width="2.15" height="37" fill="#ff0000"/>
<line x1="591.5" y1="636" x2="591.5" y2="588" stroke="#0000ff" stroke-width="1.2"/>
<rect x="590.9" y="627.2" width="1.2" height="1.8" fill="#ff0000"/>
<line x1="601.5" y1="636" x2="601.5" y2="568" stroke="#0000ff" stroke-width="1.2"/>
<rect x="600.9" y="627.2" width="1.2" height="1.8" fill="#ff0000"/>
<line x1="610.5" y1="636" x2="610.5" y2="628" stroke="#0000ff" stroke-width="1.2"/>
<rect x="610.0" y="567" width="2.15" height="61" fill="#ff0000"/>
<line x1="619.5" y1="636" x2="619.5" y2="552" stroke="#0000ff" stroke-width="1.2"/>
<rect x="618.9" y="627.2" width="1.2" height="1.8" fill="#ff0000"/>
<line x1="629.5" y1="636" x2="629.5" y2="628" stroke="#0000ff" stroke-width="1.2"/>
<rect x="629.0" y="551" width="2.15" height="77" fill="#ff0000"/>
<line x1="639.5" y1="636" x2="639.5" y2="566" stroke="#0000ff" stroke-width="1.2"/>
<rect x="638.9" y="627.2" width="1.2" height="1.8" fill="#ff0000"/>
<line x1="648.5" y1="636" x2="648.5" y2="575" stroke="#0000ff" stroke-width="1.2"/>
<rect x="647.9" y="627.2" width="1.2" height="1.8" fill="#ff0000"/>
<polyline points="0.0,604.4 5.0,606.3 9.3,601.6 15.0,594.7 23.6,586.6 29.9,582.3 33.6,579.5 42.3,570.5 51.0,558.4 60.3,553.4 71.4,553.6 80.3,553.6 90.8,551.4 100.0,554.4 110.0,557.0 120.0,561.0 130.0,565.5 137.5,568.7 145.0,571.2 156.0,571.2 165.0,569.5 170.0,567.5 175.0,563.0 180.0,562.0 185.0,561.2 190.0,564.5 194.5,567.5 200.0,574.5 203.7,579.8 213.0,591.0 222.0,601.0 232.0,615.8 241.5,624.5 251.5,627.5 260.0,624.5 270.0,624.0 279.0,619.5 288.5,611.0 298.0,606.0 307.5,599.6 317.0,594.7 327.0,591.0 335.5,590.4 345.5,589.0 355.4,581.0 364.4,575.3 374.0,573.5 383.7,567.3 392.4,563.6 402.0,562.3 412.0,568.6 421.0,576.8 430.5,576.8 441.0,574.8 450.0,580.5 458.6,581.0 469.0,583.5 478.0,587.0 487.0,597.0 496.0,604.6 500.0,603.5 506.5,601.8 515.0,598.7 525.0,586.2 536.2,573.1 543.1,565.0 547.5,561.9 553.7,559.4 560.0,557.5 572.5,557.5 580.0,560.6 600.0,560.4 602.0,560.4 610.0,564.0 613.0,564.4 618.5,565.3 628.0,569.4 640.0,569.4 645.0,570.5 648.6,570.5" fill="none" stroke="#ff0000" stroke-width="1.05" stroke-linejoin="round"/>
<polyline points="1.9,597.8 5.0,601.0 9.3,599.7 15.0,597.5 21.8,594.0 28.0,589.8 33.0,587.3 39.2,581.7 45.4,575.4 50.4,569.6 56.6,564.9 62.8,560.8 68.4,558.4 74.6,556.4 80.8,555.0 86.4,553.7 92.0,552.8 104.0,554.6 115.0,557.5 125.0,562.0 135.0,566.5 145.0,569.0 155.0,569.6 165.0,569.0 175.0,565.5 182.0,563.5 190.0,564.6 195.0,566.8 200.0,570.0 203.7,574.8 213.0,582.0 222.0,592.0 232.0,603.4 241.5,614.6 251.5,622.0 260.0,624.0 270.0,624.0 279.0,621.3 288.5,615.8 298.0,611.0 307.5,606.0 317.0,600.4 327.0,595.0 335.5,592.0 345.5,591.0 355.4,584.7 364.4,578.5 374.0,575.3 383.7,572.3 392.4,567.3 402.0,564.3 412.0,567.3 421.0,572.3 430.5,574.3 441.0,574.8 450.0,577.8 458.6,579.8 469.0,582.0 478.0,585.0 487.0,592.0 496.0,598.4 500.0,599.4 515.0,598.1 520.0,596.9 525.0,593.1 531.2,587.5 537.5,581.2 543.1,575.0 548.7,570.6 555.0,566.2 561.2,562.5 567.5,560.0 573.7,558.5 580.0,560.0 587.5,560.2 600.0,560.3 608.0,562.5 618.0,563.4 625.0,565.0 630.0,566.5 638.0,567.2 646.0,568.3 648.6,568.6" fill="none" stroke="#000" stroke-width="1.05" stroke-dasharray="3,4.3"/>
<rect x="0.5" y="636.5" width="9.0" height="17.5" fill="url(#hr)"/>
<line x1="0.5" y1="636.5" x2="0.5" y2="654" stroke="#000" stroke-width="1"/>
<rect x="9.5" y="636.5" width="227.0" height="17.5" fill="url(#hg)"/>
<line x1="9.5" y1="636.5" x2="9.5" y2="654" stroke="#000" stroke-width="1"/>
<rect x="236.5" y="636.5" width="48.0" height="17.5" fill="url(#hr)"/>
<line x1="236.5" y1="636.5" x2="236.5" y2="654" stroke="#000" stroke-width="1"/>
<rect x="284.5" y="636.5" width="189.0" height="17.5" fill="url(#hg)"/>
<line x1="284.5" y1="636.5" x2="284.5" y2="654" stroke="#000" stroke-width="1"/>
<rect x="473.5" y="636.5" width="38.0" height="17.5" fill="url(#hr)"/>
<line x1="473.5" y1="636.5" x2="473.5" y2="654" stroke="#000" stroke-width="1"/>
<rect x="511.5" y="636.5" width="147.0" height="17.5" fill="url(#hg)"/>
<line x1="511.5" y1="636.5" x2="511.5" y2="654" stroke="#000" stroke-width="1"/>
<line x1="658.5" y1="636.5" x2="658.5" y2="654" stroke="#000" stroke-width="1.2"/>
<text x="101.5" y="650.9" font-size="14" fill="#000">Bullish</text>
<text x="236.6" y="650.9" font-size="14" fill="#000">Bearish</text>
<text x="359" y="650.9" font-size="14" fill="#000">Bullish</text>
<text x="564" y="650.9" font-size="14" fill="#000">Bullish</text>
<line x1="0" y1="636.5" x2="756" y2="636.5" stroke="#000" stroke-width="1.2"/>
<line x1="0" y1="654.3" x2="757" y2="654.3" stroke="#000" stroke-width="1.3"/>
<clipPath id="cp"><rect x="0" y="0" width="757" height="672"/></clipPath>
<g clip-path="url(#cp)">
<line x1="5.5" y1="654" x2="5.5" y2="660" stroke="#000" stroke-width="1.25"/>
<line x1="14.5" y1="654" x2="14.5" y2="672" stroke="#000" stroke-width="1.25"/>
<text x="15.2" y="669.7" fill="#000" letter-spacing="0.75">Nov</text>
<line x1="23.5" y1="654" x2="23.5" y2="660" stroke="#000" stroke-width="1.25"/>
<line x1="33.5" y1="654" x2="33.5" y2="660" stroke="#000" stroke-width="1.25"/>
<line x1="42.5" y1="654" x2="42.5" y2="660" stroke="#000" stroke-width="1.25"/>
<line x1="51.5" y1="654" x2="51.5" y2="672" stroke="#000" stroke-width="1.25"/>
<text x="52.2" y="669.7" fill="#000" letter-spacing="1.20">Dec</text>
<line x1="62.5" y1="654" x2="62.5" y2="660" stroke="#000" stroke-width="1.25"/>
<line x1="71.5" y1="654" x2="71.5" y2="660" stroke="#000" stroke-width="1.25"/>
<line x1="80.5" y1="654" x2="80.5" y2="660" stroke="#000" stroke-width="1.25"/>
<line x1="90.5" y1="654" x2="90.5" y2="660" stroke="#000" stroke-width="1.25"/>
<line x1="99.5" y1="654" x2="99.5" y2="672" stroke="#000" stroke-width="1.25"/>
<text x="101.5" y="669.7" fill="#000" letter-spacing="0.10">2005</text>
<line x1="108.5" y1="654" x2="108.5" y2="660" stroke="#000" stroke-width="1.25"/>
<line x1="118.5" y1="654" x2="118.5" y2="660" stroke="#000" stroke-width="1.25"/>
<line x1="128.5" y1="654" x2="128.5" y2="660" stroke="#000" stroke-width="1.25"/>
<line x1="137.5" y1="654" x2="137.5" y2="672" stroke="#000" stroke-width="1.25"/>
<text x="138.5" y="669.7" fill="#000" letter-spacing="0.50">Feb</text>
<line x1="146.5" y1="654" x2="146.5" y2="660" stroke="#000" stroke-width="1.25"/>
<line x1="156.5" y1="654" x2="156.5" y2="660" stroke="#000" stroke-width="1.25"/>
<line x1="165.5" y1="654" x2="165.5" y2="660" stroke="#000" stroke-width="1.25"/>
<line x1="175.5" y1="654" x2="175.5" y2="672" stroke="#000" stroke-width="1.25"/>
<text x="176.2" y="669.7" fill="#000" letter-spacing="-0.45">Mar</text>
<line x1="185.5" y1="654" x2="185.5" y2="660" stroke="#000" stroke-width="1.25"/>
<line x1="194.5" y1="654" x2="194.5" y2="660" stroke="#000" stroke-width="1.25"/>
<line x1="203.5" y1="654" x2="203.5" y2="660" stroke="#000" stroke-width="1.25"/>
<line x1="212.5" y1="654" x2="212.5" y2="672" stroke="#000" stroke-width="1.25"/>
<text x="214.2" y="669.7" fill="#000" letter-spacing="-0.50">Apr</text>
<line x1="222.5" y1="654" x2="222.5" y2="660" stroke="#000" stroke-width="1.25"/>
<line x1="232.5" y1="654" x2="232.5" y2="660" stroke="#000" stroke-width="1.25"/>
<line x1="241.5" y1="654" x2="241.5" y2="660" stroke="#000" stroke-width="1.25"/>
<line x1="251.5" y1="654" x2="251.5" y2="660" stroke="#000" stroke-width="1.25"/>
<line x1="260.5" y1="654" x2="260.5" y2="672" stroke="#000" stroke-width="1.25"/>
<text x="261.5" y="669.7" fill="#000" letter-spacing="-0.10">May</text>
<line x1="269.5" y1="654" x2="269.5" y2="660" stroke="#000" stroke-width="1.25"/>
<line x1="279.5" y1="654" x2="279.5" y2="660" stroke="#000" stroke-width="1.25"/>
<line x1="288.5" y1="654" x2="288.5" y2="660" stroke="#000" stroke-width="1.25"/>
<line x1="298.5" y1="654" x2="298.5" y2="672" stroke="#000" stroke-width="1.25"/>
<text x="300.3" y="669.7" fill="#000" letter-spacing="0.20">Jun</text>
<line x1="307.5" y1="654" x2="307.5" y2="660" stroke="#000" stroke-width="1.25"/>
<line x1="317.5" y1="654" x2="317.5" y2="660" stroke="#000" stroke-width="1.25"/>
<line x1="326.5" y1="654" x2="326.5" y2="660" stroke="#000" stroke-width="1.25"/>
<line x1="335.5" y1="654" x2="335.5" y2="672" stroke="#000" stroke-width="1.25"/>
<text x="337.3" y="669.7" fill="#000" letter-spacing="0.20">Jul</text>
<line x1="345.5" y1="654" x2="345.5" y2="660" stroke="#000" stroke-width="1.25"/>
<line x1="355.5" y1="654" x2="355.5" y2="660" stroke="#000" stroke-width="1.25"/>
<line x1="364.5" y1="654" x2="364.5" y2="660" stroke="#000" stroke-width="1.25"/>
<line x1="374.5" y1="654" x2="374.5" y2="660" stroke="#000" stroke-width="1.25"/>
<line x1="383.5" y1="654" x2="383.5" y2="672" stroke="#000" stroke-width="1.25"/>
<text x="385.9" y="669.7" fill="#000" letter-spacing="0.00">Aug</text>
<line x1="392.5" y1="654" x2="392.5" y2="660" stroke="#000" stroke-width="1.25"/>
<line x1="402.5" y1="654" x2="402.5" y2="660" stroke="#000" stroke-width="1.25"/>
<line x1="412.5" y1="654" x2="412.5" y2="660" stroke="#000" stroke-width="1.25"/>
<line x1="421.5" y1="654" x2="421.5" y2="672" stroke="#000" stroke-width="1.25"/>
<text x="422.3" y="669.7" fill="#000" letter-spacing="0.65">Sep</text>
<line x1="430.5" y1="654" x2="430.5" y2="660" stroke="#000" stroke-width="1.25"/>
<line x1="440.5" y1="654" x2="440.5" y2="660" stroke="#000" stroke-width="1.25"/>
<line x1="449.5" y1="654" x2="449.5" y2="660" stroke="#000" stroke-width="1.25"/>
<line x1="458.5" y1="654" x2="458.5" y2="660" stroke="#000" stroke-width="1.25"/>
<line x1="469.5" y1="654" x2="469.5" y2="672" stroke="#000" stroke-width="1.25"/>
<text x="470.9" y="669.7" fill="#000" letter-spacing="-0.60">Oct</text>
<line x1="478.5" y1="654" x2="478.5" y2="660" stroke="#000" stroke-width="1.25"/>
<line x1="487.5" y1="654" x2="487.5" y2="660" stroke="#000" stroke-width="1.25"/>
<line x1="496.5" y1="654" x2="496.5" y2="660" stroke="#000" stroke-width="1.25"/>
<line x1="506.5" y1="654" x2="506.5" y2="672" stroke="#000" stroke-width="1.25"/>
<text x="507.3" y="669.7" fill="#000" letter-spacing="1.20">Nov</text>
<line x1="515.5" y1="654" x2="515.5" y2="660" stroke="#000" stroke-width="1.25"/>
<line x1="525.5" y1="654" x2="525.5" y2="660" stroke="#000" stroke-width="1.25"/>
<line x1="535.5" y1="654" x2="535.5" y2="660" stroke="#000" stroke-width="1.25"/>
<line x1="544.5" y1="654" x2="544.5" y2="672" stroke="#000" stroke-width="1.25"/>
<text x="545.3" y="669.7" fill="#000" letter-spacing="1.20">Dec</text>
<line x1="553.5" y1="654" x2="553.5" y2="660" stroke="#000" stroke-width="1.25"/>
<line x1="563.5" y1="654" x2="563.5" y2="660" stroke="#000" stroke-width="1.25"/>
<line x1="572.5" y1="654" x2="572.5" y2="660" stroke="#000" stroke-width="1.25"/>
<line x1="582.5" y1="654" x2="582.5" y2="660" stroke="#000" stroke-width="1.25"/>
<line x1="591.5" y1="654" x2="591.5" y2="672" stroke="#000" stroke-width="1.25"/>
<text x="593.0" y="669.7" fill="#000" letter-spacing="0.17">2006</text>
<line x1="601.5" y1="654" x2="601.5" y2="660" stroke="#000" stroke-width="1.25"/>
<line x1="610.5" y1="654" x2="610.5" y2="660" stroke="#000" stroke-width="1.25"/>
<line x1="619.5" y1="654" x2="619.5" y2="660" stroke="#000" stroke-width="1.25"/>
<line x1="629.5" y1="654" x2="629.5" y2="672" stroke="#000" stroke-width="1.25"/>
<text x="630.3" y="669.7" fill="#000" letter-spacing="0.75">Feb</text>
<line x1="639.5" y1="654" x2="639.5" y2="660" stroke="#000" stroke-width="1.25"/>
<line x1="648.5" y1="654" x2="648.5" y2="660" stroke="#000" stroke-width="1.25"/>
<line x1="658.5" y1="654" x2="658.5" y2="660" stroke="#000" stroke-width="1.25"/>
<line x1="667.5" y1="654" x2="667.5" y2="672" stroke="#000" stroke-width="1.25"/>
<text x="668.3" y="669.7" fill="#000" letter-spacing="-0.30">Mar</text>
<line x1="676.5" y1="654" x2="676.5" y2="660" stroke="#000" stroke-width="1.25"/>
<line x1="685.5" y1="654" x2="685.5" y2="660" stroke="#000" stroke-width="1.25"/>
<line x1="696.5" y1="654" x2="696.5" y2="660" stroke="#000" stroke-width="1.25"/>
<line x1="705.5" y1="654" x2="705.5" y2="660" stroke="#000" stroke-width="1.25"/>
<line x1="714.5" y1="654" x2="714.5" y2="672" stroke="#000" stroke-width="1.25"/>
<text x="716.3" y="669.7" fill="#000" letter-spacing="-0.50">Apr</text>
<line x1="724.5" y1="654" x2="724.5" y2="660" stroke="#000" stroke-width="1.25"/>
<line x1="733.5" y1="654" x2="733.5" y2="660" stroke="#000" stroke-width="1.25"/>
<line x1="742.5" y1="654" x2="742.5" y2="660" stroke="#000" stroke-width="1.25"/>
<line x1="752.5" y1="654" x2="752.5" y2="672" stroke="#000" stroke-width="1.25"/>
<text x="753.8" y="669.7" fill="#000" letter-spacing="-0.25">May</text>
</g>
<line x1="757.5" y1="0" x2="757.5" y2="636" stroke="#000" stroke-width="1.3"/>
<line x1="757" y1="3.5" x2="764.5" y2="3.5" stroke="#000" stroke-width="1"/>
<line x1="757" y1="10.4" x2="761" y2="10.4" stroke="#000" stroke-width="1"/>
<line x1="757" y1="18.7" x2="764.5" y2="18.7" stroke="#000" stroke-width="1"/>
<line x1="757" y1="25.6" x2="761" y2="25.6" stroke="#000" stroke-width="1"/>
<line x1="757" y1="32.3" x2="764.5" y2="32.3" stroke="#000" stroke-width="1"/>
<line x1="757" y1="39.8" x2="761" y2="39.8" stroke="#000" stroke-width="1"/>
<line x1="757" y1="51.5" x2="761" y2="51.5" stroke="#000" stroke-width="1"/>
<line x1="757" y1="63.4" x2="764.5" y2="63.4" stroke="#000" stroke-width="1"/>
<line x1="757" y1="75.4" x2="761" y2="75.4" stroke="#000" stroke-width="1"/>
<line x1="757" y1="87.0" x2="761" y2="87.0" stroke="#000" stroke-width="1"/>
<text x="799.5" y="22.7" text-anchor="end" fill="#000">0</text>
<text x="799.5" y="67.4" text-anchor="end" fill="#000">0</text>
<line x1="757" y1="542.9" x2="764.5" y2="542.9" stroke="#000" stroke-width="1"/>
<line x1="757" y1="529.5" x2="761" y2="529.5" stroke="#000" stroke-width="1"/>
<line x1="757" y1="516.3" x2="764.5" y2="516.3" stroke="#000" stroke-width="1"/>
<text x="773" y="520.6" textLength="26.5" lengthAdjust="spacing" fill="#000">9600</text>
<line x1="757" y1="503.0" x2="761" y2="503.0" stroke="#000" stroke-width="1"/>
<line x1="757" y1="489.9" x2="764.5" y2="489.9" stroke="#000" stroke-width="1"/>
<text x="773" y="494.2" textLength="26.5" lengthAdjust="spacing" fill="#000">9700</text>
<line x1="757" y1="476.8" x2="761" y2="476.8" stroke="#000" stroke-width="1"/>
<line x1="757" y1="463.8" x2="764.5" y2="463.8" stroke="#000" stroke-width="1"/>
<text x="773" y="468.1" textLength="26.5" lengthAdjust="spacing" fill="#000">9800</text>
<line x1="757" y1="450.9" x2="761" y2="450.9" stroke="#000" stroke-width="1"/>
<line x1="757" y1="438.0" x2="764.5" y2="438.0" stroke="#000" stroke-width="1"/>
<text x="773" y="442.3" textLength="26.5" lengthAdjust="spacing" fill="#000">9900</text>
<line x1="757" y1="425.2" x2="761" y2="425.2" stroke="#000" stroke-width="1"/>
<line x1="757" y1="412.4" x2="764.5" y2="412.4" stroke="#000" stroke-width="1"/>
<text x="766.3" y="416.7" textLength="33.2" lengthAdjust="spacing" fill="#000">10000</text>
<line x1="757" y1="399.7" x2="761" y2="399.7" stroke="#000" stroke-width="1"/>
<line x1="757" y1="387.1" x2="764.5" y2="387.1" stroke="#000" stroke-width="1"/>
<text x="766.3" y="391.4" textLength="33.2" lengthAdjust="spacing" fill="#000">10100</text>
<line x1="757" y1="374.6" x2="761" y2="374.6" stroke="#000" stroke-width="1"/>
<line x1="757" y1="362.1" x2="764.5" y2="362.1" stroke="#000" stroke-width="1"/>
<text x="766.3" y="366.4" textLength="33.2" lengthAdjust="spacing" fill="#000">10200</text>
<line x1="757" y1="349.6" x2="761" y2="349.6" stroke="#000" stroke-width="1"/>
<line x1="757" y1="337.2" x2="764.5" y2="337.2" stroke="#000" stroke-width="1"/>
<text x="766.3" y="341.5" textLength="33.2" lengthAdjust="spacing" fill="#000">10300</text>
<line x1="757" y1="324.9" x2="761" y2="324.9" stroke="#000" stroke-width="1"/>
<line x1="757" y1="312.7" x2="764.5" y2="312.7" stroke="#000" stroke-width="1"/>
<text x="766.3" y="317.0" textLength="33.2" lengthAdjust="spacing" fill="#000">10400</text>
<line x1="757" y1="300.5" x2="761" y2="300.5" stroke="#000" stroke-width="1"/>
<line x1="757" y1="288.3" x2="764.5" y2="288.3" stroke="#000" stroke-width="1"/>
<text x="766.3" y="292.6" textLength="33.2" lengthAdjust="spacing" fill="#000">10500</text>
<line x1="757" y1="276.2" x2="761" y2="276.2" stroke="#000" stroke-width="1"/>
<line x1="757" y1="264.2" x2="764.5" y2="264.2" stroke="#000" stroke-width="1"/>
<text x="766.3" y="268.5" textLength="33.2" lengthAdjust="spacing" fill="#000">10600</text>
<line x1="757" y1="252.2" x2="761" y2="252.2" stroke="#000" stroke-width="1"/>
<line x1="757" y1="240.3" x2="764.5" y2="240.3" stroke="#000" stroke-width="1"/>
<text x="766.3" y="244.6" textLength="33.2" lengthAdjust="spacing" fill="#000">10700</text>
<line x1="757" y1="228.5" x2="761" y2="228.5" stroke="#000" stroke-width="1"/>
<line x1="757" y1="216.7" x2="764.5" y2="216.7" stroke="#000" stroke-width="1"/>
<text x="766.3" y="221.0" textLength="33.2" lengthAdjust="spacing" fill="#000">10800</text>
<line x1="757" y1="204.9" x2="761" y2="204.9" stroke="#000" stroke-width="1"/>
<line x1="757" y1="193.2" x2="764.5" y2="193.2" stroke="#000" stroke-width="1"/>
<text x="766.3" y="197.5" textLength="33.2" lengthAdjust="spacing" fill="#000">10900</text>
<line x1="757" y1="181.6" x2="761" y2="181.6" stroke="#000" stroke-width="1"/>
<line x1="757" y1="170.0" x2="764.5" y2="170.0" stroke="#000" stroke-width="1"/>
<text x="766.3" y="174.3" textLength="33.2" lengthAdjust="spacing" fill="#000">11000</text>
<line x1="757" y1="158.5" x2="761" y2="158.5" stroke="#000" stroke-width="1"/>
<line x1="757" y1="147.0" x2="764.5" y2="147.0" stroke="#000" stroke-width="1"/>
<text x="766.3" y="151.3" textLength="33.2" lengthAdjust="spacing" fill="#000">11100</text>
<line x1="757" y1="135.6" x2="761" y2="135.6" stroke="#000" stroke-width="1"/>
<line x1="757" y1="124.2" x2="764.5" y2="124.2" stroke="#000" stroke-width="1"/>
<text x="766.3" y="128.5" textLength="33.2" lengthAdjust="spacing" fill="#000">11200</text>
<line x1="757" y1="112.8" x2="761" y2="112.8" stroke="#000" stroke-width="1"/>
<line x1="757" y1="101.6" x2="764.5" y2="101.6" stroke="#000" stroke-width="1"/>
<text x="766.3" y="105.9" textLength="33.2" lengthAdjust="spacing" fill="#000">11300</text>
<line x1="757" y1="551.4" x2="761" y2="551.4" stroke="#000" stroke-width="1"/>
<line x1="757" y1="563.5" x2="761" y2="563.5" stroke="#000" stroke-width="1"/>
<line x1="757" y1="574.5" x2="761" y2="574.5" stroke="#000" stroke-width="1"/>
<line x1="757" y1="586.4" x2="764.5" y2="586.4" stroke="#000" stroke-width="1"/>
<line x1="757" y1="598.5" x2="761" y2="598.5" stroke="#000" stroke-width="1"/>
<line x1="757" y1="609.6" x2="761" y2="609.6" stroke="#000" stroke-width="1"/>
<line x1="757" y1="621.0" x2="761" y2="621.0" stroke="#000" stroke-width="1"/>
<text x="766.2" y="591.4" textLength="33.2" lengthAdjust="spacing" fill="#000">10000</text>
<line x1="745" y1="92.5" x2="757" y2="92.5" stroke="#ff00ff" stroke-width="1"/>
<path d="M759.5,636 V624.5 H790.5 V636" fill="none" stroke="#000" stroke-width="1"/>
<text x="761" y="632.8" font-size="7" fill="#000" stroke="#000" stroke-width="0.35" letter-spacing="0.5">000</text>
<circle cx="779.6" cy="664.4" r="3.5" fill="none" stroke="#00f000" stroke-width="2.2"/>
</svg>
</body></html>
